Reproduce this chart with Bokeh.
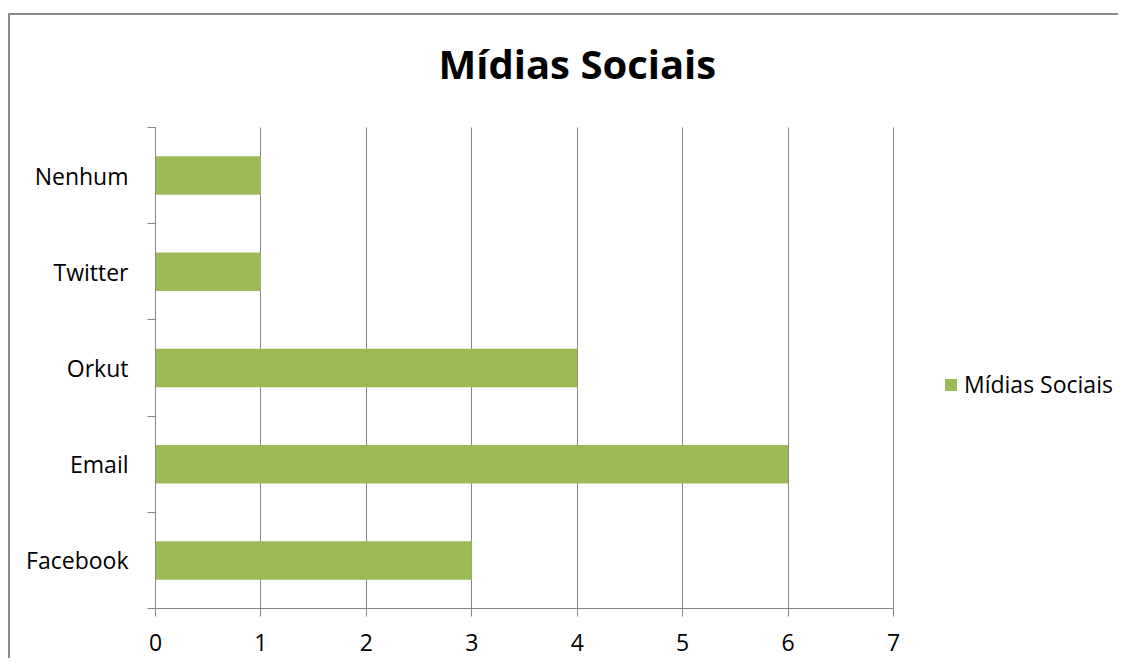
from bokeh.plotting import figure
from bokeh.models import (ColumnDataSource, FixedTicker, Legend, LegendItem,
                          Range1d, Label, Grid)
from bokeh.embed import file_html
from bokeh.resources import INLINE

# ---- data ----
title_text = "Mídias Sociais"
series_name = "Mídias Sociais"
categories = ["Facebook", "Email", "Orkut", "Twitter", "Nenhum"]
values = [3, 6, 4, 1, 1]
x_ticks = [0, 1, 2, 3, 4, 5, 6, 7]

# ---- styles ----
BAR = "#9BBB59"
GRID = "#868686"
FONT = "Open Sans"

n = len(categories)
ypos = [i + 0.5 for i in range(n)]
src = ColumnDataSource(dict(y=ypos, v=values, cat=categories))

# the frame runs to the right and top edges so that legend and title sit inside it;
# the axes themselves are bounded to the data extent
x_max = x_ticks[-1]
x_view_end = x_max * 965 / 738
y_view_end = n * 593 / 481

p = figure(width=1110, height=645, output_backend="svg", toolbar_location=None,
           x_range=Range1d(0, x_view_end), y_range=Range1d(0, y_view_end),
           min_border_left=145, min_border_right=0, min_border_top=0,
           min_border_bottom=52, title=None)
p.outline_line_color = None
p.background_fill_color = "white"
p.border_fill_color = "white"
p.styles = {"border-top": "2px solid #8a8a8a", "border-left": "2px solid #8a8a8a",
            "margin-top": "13px", "margin-left": "8px"}

r = p.hbar(y="y", right="v", left=0, height=0.4, source=src, color=BAR, line_color=None)

# grids
p.ygrid.visible = False
if "cross_bounds" in Grid.properties():
    p.xgrid.grid_line_color = GRID
    p.xgrid.grid_line_width = 1
    p.xgrid.ticker = FixedTicker(ticks=x_ticks)
    p.xgrid.cross_bounds = (0, n)
else:
    p.xgrid.visible = False
    p.segment(x0=x_ticks, x1=x_ticks, y0=[0] * len(x_ticks), y1=[n] * len(x_ticks),
              line_color=GRID, line_width=1, level="underlay")

# x axis
xa = p.xaxis[0]
xa.ticker = FixedTicker(ticks=x_ticks)
xa.bounds = (0, x_max)
xa.axis_line_color = GRID
xa.major_tick_line_color = GRID
xa.major_tick_out = 8
xa.major_tick_in = 0
xa.minor_tick_line_color = None
xa.major_label_text_font = FONT
xa.major_label_text_font_size = "23px"
xa.major_label_text_color = "black"
xa.major_label_standoff = 17

# y axis: labels at centres, ticks at boundaries
ya = p.yaxis[0]
ya.ticker = FixedTicker(ticks=ypos, minor_ticks=list(range(n + 1)))
ya.bounds = (0, n)
ya.major_label_overrides = {y: c for y, c in zip(ypos, categories)}
ya.axis_line_color = GRID
ya.major_tick_line_color = None
ya.major_tick_out = 0
ya.major_tick_in = 0
ya.minor_tick_line_color = GRID
ya.minor_tick_out = 8
ya.minor_tick_in = 0
ya.major_label_text_font = FONT
ya.major_label_text_font_size = "23px"
ya.major_label_text_color = "black"
ya.major_label_standoff = 19

# title (screen offsets from the frame's bottom-left corner)
p.add_layout(Label(x=283, y=545, x_units="screen", y_units="screen", text=title_text,
                   text_align="left", text_baseline="alphabetic",
                   text_font=FONT, text_font_size="40px", text_font_style="bold",
                   text_color="black"))

# legend (inside the frame, right of the bounded axis)
legend = Legend(items=[LegendItem(label=series_name, renderers=[r])],
                location=(788, 208), padding=0, margin=0, spacing=0,
                glyph_width=15, glyph_height=15, label_standoff=6,
                label_text_font=FONT, label_text_font_size="23px",
                label_text_color="black", border_line_color=None,
                background_fill_alpha=0)
p.add_layout(legend, "center")

open("out.html", "w").write(file_html(p, INLINE))
